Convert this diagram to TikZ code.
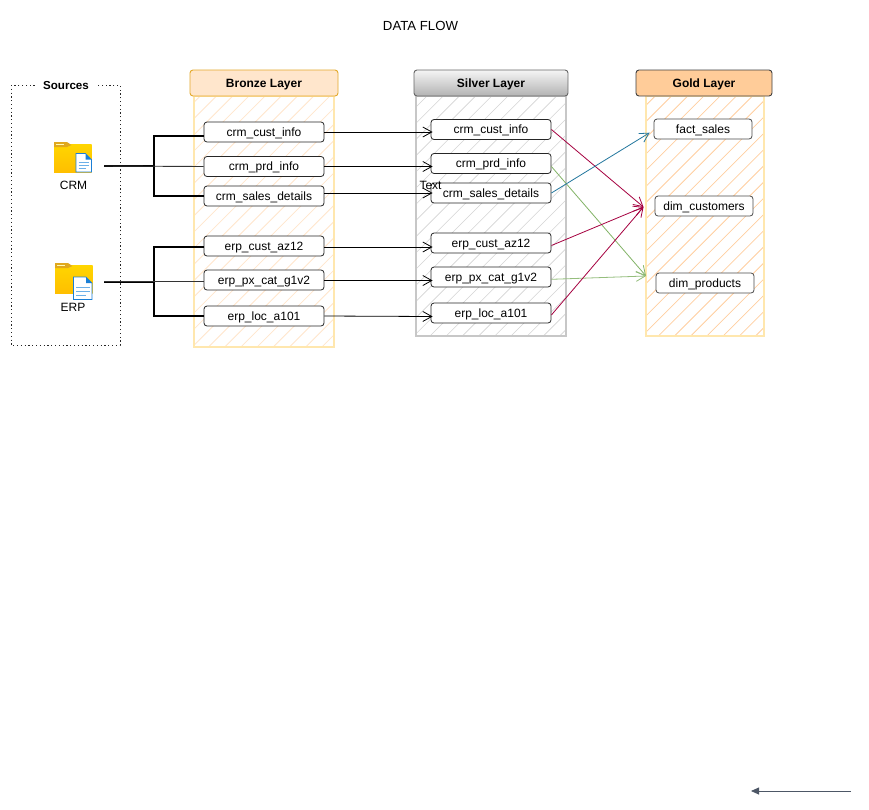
\documentclass[tikz,border=0pt]{standalone}
\usepackage{fontspec}
\setmainfont{Liberation Sans}
\usetikzlibrary{arrows.meta}
\definecolor{crim}{HTML}{A50040}
\definecolor{grn}{HTML}{82B366}
\definecolor{blu}{HTML}{23779E}
\definecolor{slate}{HTML}{4D5766}
\definecolor{bronzefill}{HTML}{FFE6CC}
\definecolor{bronzeedge}{HTML}{E3A92B}
\definecolor{goldfill}{HTML}{FFCC99}
\definecolor{paleedge}{HTML}{FFE7AE}
\definecolor{goldhatch}{HTML}{FFCFA0}
\definecolor{folderhi}{HTML}{FFD500}
\definecolor{folderlo}{HTML}{FFBF00}
\definecolor{foldertab}{HTML}{E0A81E}
\definecolor{docblue}{HTML}{1B7FD6}
\definecolor{docline}{HTML}{6CB0E8}
\newcommand{\hatchrect}[8]{% x1 y1 x2 y2 hatch border phase width
  \begin{scope}
    \clip (#1,#2) rectangle (#3,#4);
    \foreach \i in {-20,...,25}
      \draw[#5,line width=#8] ({#7+\i*16.2},#4) -- ++(300,-300);
  \end{scope}
  \draw[#6,line width=1.1pt] (#1,#2) rectangle (#3,#4);
}
\tikzset{
  tbl/.style={draw=black!85,rounded corners=3pt,fill=white,line width=0.8pt,minimum width=120pt,minimum height=20pt,inner sep=0pt,font=\fontsize{12}{14}\selectfont,text height=11pt,text depth=2.5pt},
  goldtbl/.style={tbl,draw=black!70,minimum width=98pt},
  hdr/.style={rounded corners=3pt,line width=0.9pt,minimum height=26pt,inner sep=0pt,font=\fontsize{12}{14}\selectfont\bfseries,text height=11pt,text depth=2.5pt},
  lbl/.style={inner sep=0pt,font=\fontsize{12}{14}\selectfont,text height=11pt,text depth=2.5pt},
  flow/.style={-{Straight Barb[length=9pt,width=10pt]},line width=0.8pt},
  trunk/.style={line width=1.8pt,black},
  thinb/.style={line width=0.9pt,black!80}
}
\newcommand{\foldericon}[2]{% x y: top-left of folder
  \begin{scope}[shift={(#1,#2)}]
    \fill[top color=folderhi,bottom color=folderlo] (0,2.5) rectangle (37.5,30);
    \fill[foldertab] (0,0) -- (13,0) -- (17.5,3) -- (13,5) -- (0,5) -- cycle;
    \fill[yellow!30] (2,1.5) rectangle (10,3);
  \end{scope}
}
\newcommand{\docicon}[4]{% x y w h
  \begin{scope}[shift={(#1,#2)}]
    \fill[white,draw=docblue,line width=0.7pt] (0,0) -- ({#3-6},0) -- (#3,6) -- (#3,#4) -- (0,#4) -- cycle;
    \fill[docblue] ({#3-6},0) -- (#3,6) -- ({#3-6},6) -- cycle;
    \draw[docline,line width=0.9pt] (2.5,{#4*0.47}) -- ({#3-2.5},{#4*0.47}) (2.5,{#4*0.63}) -- ({#3-2.5},{#4*0.63}) (2.5,{#4*0.8}) -- ({#3-6},{#4*0.8});
  \end{scope}
}
\begin{document}
\begin{tikzpicture}[x=1pt,y=-1pt]
\useasboundingbox[fill=white] (0,0) rectangle (869,809);

\node[inner sep=0pt,font=\fontsize{13.2}{15}\selectfont] (title) at (420.5,25.5) {DATA FLOW};

% Sources box
\draw[line width=1pt,black!85,dash pattern=on 1.2pt off 2.6pt] (11,85) rectangle (120,345);
\node[lbl,fill=white,font=\fontsize{11.6}{14}\selectfont\bfseries,inner xsep=8pt,inner ysep=0pt] (src) at (66,85) {Sources};

% layer panels
\hatchrect{194}{96}{334}{347}{bronzefill}{paleedge}{208.5}{0.8pt}
\hatchrect{416}{96}{566}{336}{black!17}{black!22}{430}{0.6pt}
\hatchrect{646}{96}{764}{336}{goldhatch}{paleedge}{658.3}{0.8pt}

% headers
\node[hdr,draw=bronzeedge,fill=bronzefill,minimum width=148pt] (bh) at (264,83) {Bronze Layer};
\node[hdr,draw=black!60,top color=black!4,bottom color=black!30,minimum width=154pt] (sh) at (491,83) {Silver Layer};
\node[hdr,draw=black!75,fill=goldfill,minimum width=136pt] (gh) at (704,83) {Gold Layer};

% bronze
\node[tbl] (b1) at (264,132) {crm\_cust\_info};
\node[tbl] (b2) at (264,166.5) {crm\_prd\_info};
\node[tbl] (b3) at (264,196) {crm\_sales\_details};
\node[tbl] (b4) at (264,246) {erp\_cust\_az12};
\node[tbl] (b5) at (264,280) {erp\_px\_cat\_g1v2};
\node[tbl] (b6) at (264,316) {erp\_loc\_a101};
% silver
\node[tbl] (s1) at (491,129.5) {crm\_cust\_info};
\node[tbl] (s2) at (491,163.5) {crm\_prd\_info};
\node[tbl] (s3) at (491,193) {crm\_sales\_details};
\node[tbl] (s4) at (491,243) {erp\_cust\_az12};
\node[tbl] (s5) at (491,277) {erp\_px\_cat\_g1v2};
\node[tbl] (s6) at (491,313) {erp\_loc\_a101};
% gold
\node[goldtbl] (g1) at (703,129) {fact\_sales};
\node[goldtbl] (g2) at (704,206) {dim\_customers};
\node[goldtbl] (g3) at (705,283) {dim\_products};

% icons
\foldericon{54}{142}
\docicon{76}{153.5}{15.5}{18.5}
\foldericon{55}{263}
\docicon{73.5}{277}{18.5}{22.5}
\node[lbl] (crml) at (73.5,185) {CRM};
\node[lbl] (erpl) at (73,307.5) {ERP};
\coordinate (crmo) at (104,166);
\coordinate (erpo) at (104,281.7);

% source fan-out
\draw[trunk] (crmo) -- ++(50,0) |- ([shift={(0,4)}]b1.west);
\draw[trunk] (crmo) -- ++(50,0) |- (b3.west);
\draw[thinb] (crmo) -- (b2.west);
\draw[trunk] (erpo) -- ++(50,0) |- ([shift={(0,1)}]b4.west);
\draw[trunk] (erpo) -- ++(50,0) |- (b6.west);
\draw[thinb] (erpo) -- ([shift={(0,1.7)}]b5.west);

% bronze to silver
\draw[flow] (b1.east) -- ([shift={(2,2.5)}]s1.west);
\draw[flow] (b2.east) -- ([shift={(2,3)}]s2.west);
\draw[flow] ([shift={(0,-3)}]b3.east) -- ([shift={(2,0)}]s3.west);
\draw[flow] ([shift={(0,1)}]b4.east) -- ([shift={(2,4)}]s4.west);
\draw[flow] ([shift={(0,0.5)}]b5.east) -- ([shift={(2,3.5)}]s5.west);
\draw[flow] (b6.east) -- ([shift={(2,3.5)}]s6.west);

% silver to gold
\coordinate (gc) at (643.5,207);
\coordinate (gp) at (646,276);
\draw[flow,crim] (s1.east) -- (gc);
\draw[flow,grn] ([shift={(0,3)}]s2.east) -- (gp);
\draw[flow,blu] (s3.east) -- ([shift={(-4,3.7)}]g1.west);
\draw[flow,crim] ([shift={(0,2.5)}]s4.east) -- (gc);
\draw[flow,grn!85] ([shift={(0,2.3)}]s5.east) -- (gp);
\draw[flow,crim] ([shift={(0,2)}]s6.east) -- (gc);

\node[lbl,text=black] (txt) at (430.5,185) {Text};

% stray arrow
\coordinate (ar1) at (851,791);
\coordinate (ar2) at (751,791);
\draw[-{Triangle[length=8pt,width=7pt]},slate,line width=0.9pt] (ar1) -- (ar2);
\end{tikzpicture}
\end{document}
